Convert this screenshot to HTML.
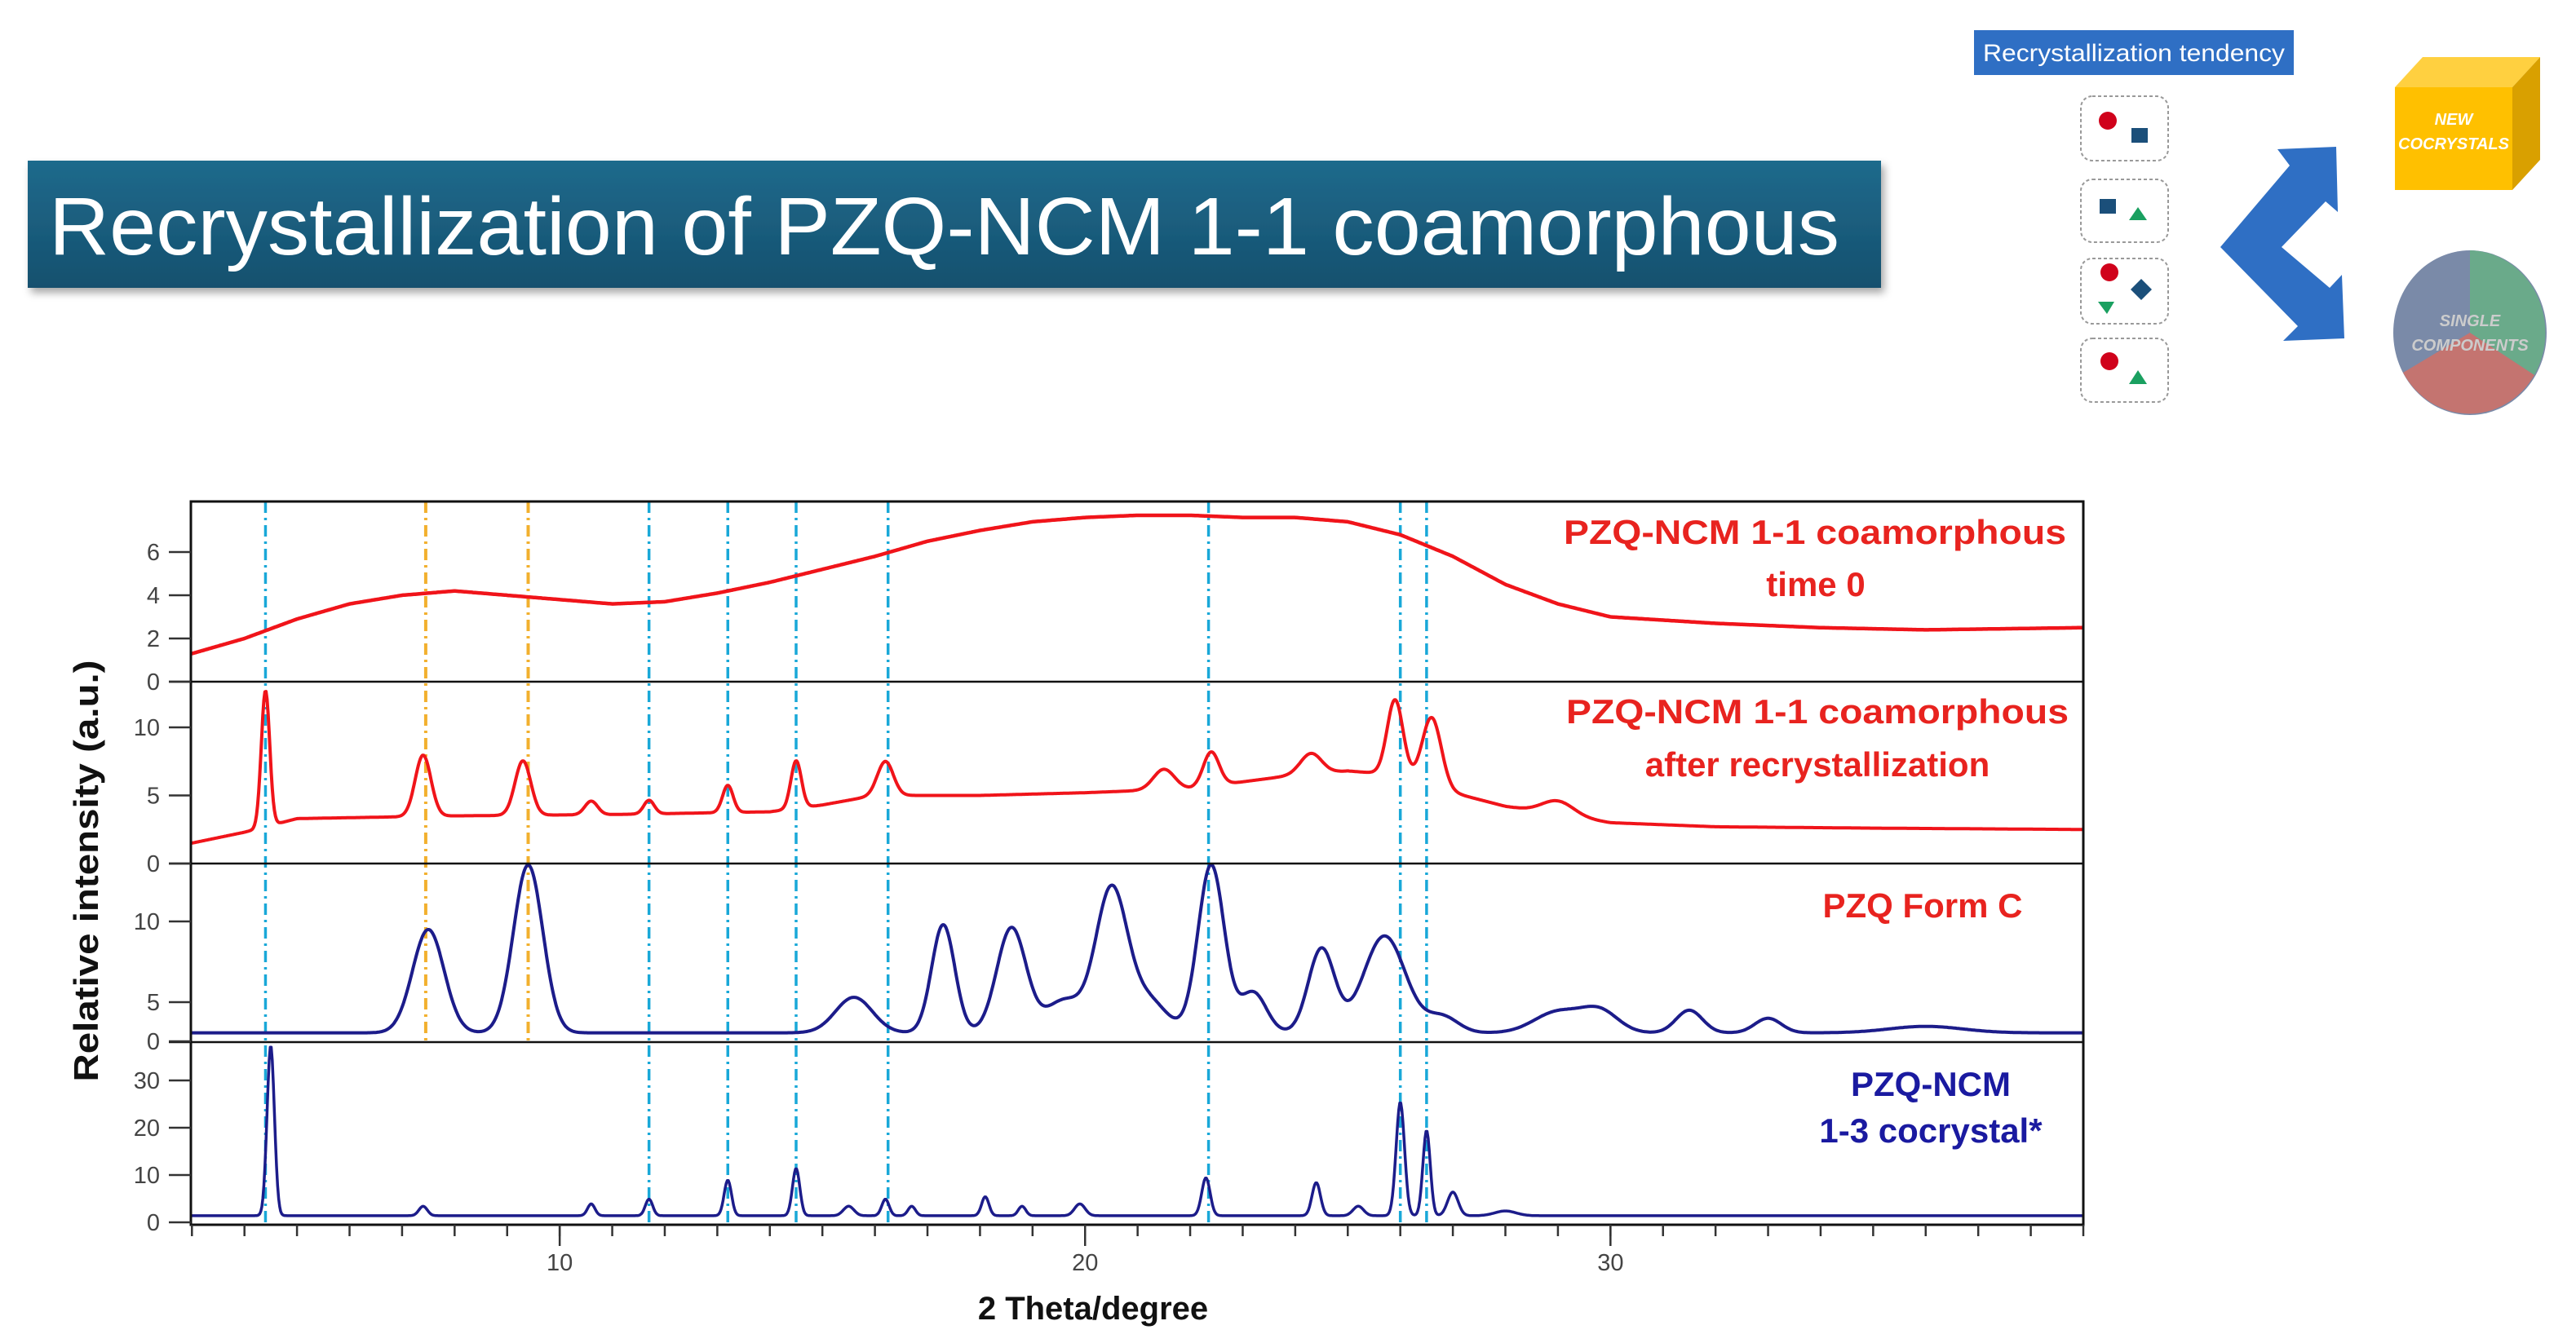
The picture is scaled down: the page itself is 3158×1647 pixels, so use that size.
<!DOCTYPE html>
<html><head><meta charset="utf-8"><style>
html,body{margin:0;padding:0;background:#fff;}
svg{display:block;font-family:"Liberation Sans",sans-serif;}
</style></head><body>
<svg id="root" width="3158" height="1647" viewBox="0 0 3158 1647" xmlns="http://www.w3.org/2000/svg">
<defs>
<linearGradient id="bn" x1="0" y1="0" x2="0" y2="1"><stop offset="0" stop-color="#1f6a8c"/><stop offset="1" stop-color="#15506e"/></linearGradient>
<filter id="sh" x="-5%" y="-20%" width="110%" height="150%"><feDropShadow dx="4" dy="6" stdDeviation="5" flood-color="#000" flood-opacity="0.35"/></filter>
<clipPath id="plotclip"><rect x="234" y="615" width="2320" height="887"/></clipPath>
</defs>
<g>
<rect x="34" y="197" width="2272" height="156" fill="url(#bn)" filter="url(#sh)"/>
<text x="60" y="312" font-size="100" fill="#fff" textLength="2195" lengthAdjust="spacingAndGlyphs">Recrystallization of PZQ-NCM 1-1 coamorphous</text>
</g>
<g>
<rect x="2420" y="37" width="392" height="55" fill="#2f6fc4"/>
<text x="2616" y="75" font-size="30" fill="#fff" text-anchor="middle" textLength="370" lengthAdjust="spacingAndGlyphs">Recrystallization tendency</text>
<g fill="none" stroke="#999" stroke-width="2" stroke-dasharray="4,3">
<rect x="2551" y="118" width="107" height="79" rx="14"/>
<rect x="2551" y="220" width="107" height="77" rx="14"/>
<rect x="2551" y="317" width="107" height="80" rx="14"/>
<rect x="2551" y="415" width="107" height="78" rx="14"/>
</g>
<ellipse cx="2584" cy="148" rx="11" ry="11" fill="#d0021b"/><rect x="2613" y="157" width="20" height="18" fill="#1b4f7a"/>
<rect x="2574" y="244" width="20" height="18" fill="#1b4f7a"/><polygon points="2621,254 2632,270 2610,270" fill="#1aa060"/>
<ellipse cx="2586" cy="334" rx="11" ry="11" fill="#d0021b"/><polygon points="2625,342 2638,355 2625,368 2612,355" fill="#1b4f7a"/><polygon points="2572,370 2592,370 2583,385" fill="#1aa060"/>
<ellipse cx="2586" cy="443" rx="11" ry="11" fill="#d0021b"/><polygon points="2621,454 2632,471 2610,471" fill="#1aa060"/>
<polygon fill="#2f6fc4" points="2792,183 2864,180 2866,260 2851,247 2797,303 2856,353 2871,337 2874,415 2799,418 2817,400 2722,303 2807,203"/>
<g>
<polygon points="2936,107 2970,70 3114,70 3080,107" fill="#ffd040"/>
<polygon points="3080,107 3114,70 3114,196 3080,233" fill="#d9a000"/>
<rect x="2936" y="107" width="144" height="126" fill="#ffc000"/>
<text x="3008" y="153" font-size="20" font-style="italic" font-weight="bold" fill="#fff" text-anchor="middle">NEW</text>
<text x="3008" y="183" font-size="20" font-style="italic" font-weight="bold" fill="#fff" text-anchor="middle">COCRYSTALS</text>
</g>
<g>
<ellipse cx="3028" cy="408" rx="94" ry="101" fill="#7a8aa8"/>
<path d="M3028,408 L3028,307 A94,101 0 0,1 3107,460 Z" fill="#6aaa8a"/>
<path d="M3028,408 L3107,460 A94,101 0 0,1 2946,457 Z" fill="#c47470"/>
<text x="3028" y="400" font-size="20" font-style="italic" font-weight="bold" fill="#ccc" text-anchor="middle">SINGLE</text>
<text x="3028" y="430" font-size="20" font-style="italic" font-weight="bold" fill="#ccc" text-anchor="middle">COMPONENTS</text>
</g>
</g>
<g id="chart"></g>
</svg>
<script>
// x-axis domain
const xDomain = [2.98, 39.0];
const xTicks = [10, 20, 30];
const xMinorTicks = [3,4,5,6,7,8,9,10,11,12,13,14,15,16,17,18,19,20,21,22,23,24,25,26,27,28,29,30,31,32,33,34,35,36,37,38,39];
// reference lines (2θ)
const cyanLines = [4.4, 11.7, 13.2, 14.5, 16.25, 22.35, 26.0, 26.5];
const orangeLines = [7.45, 9.4];
// panel 1: coamorphous time 0 — baseline samples
const p1X = [3,4,5,6,7,8,9,10,11,12,13,14,15,16,17,18,19,20,21,22,23,24,25,26,27,28,29,30,32,34,36,39];
const p1Y = [1.3,2.0,2.9,3.6,4.0,4.2,4.0,3.8,3.6,3.7,4.1,4.6,5.2,5.8,6.5,7.0,7.4,7.6,7.7,7.7,7.6,7.6,7.4,6.8,5.8,4.5,3.6,3.0,2.7,2.5,2.4,2.5];
const p1Ticks = [0,2,4,6];
// panel 2: after recrystallization
const p2X = [3,4,5,8,11,14,15,16,18,20,22,23,24,25,26,27,28,29,30,32,35,39];
const p2Y = [1.5,2.3,3.3,3.5,3.6,3.8,4.3,5.0,5.0,5.2,5.5,6.0,6.5,6.8,6.5,5.2,4.2,3.6,3.0,2.7,2.6,2.5];
const p2PeakPos = [4.4,7.4,9.3,10.6,11.7,13.2,14.5,16.2,21.5,22.4,24.3,25.9,26.6,29.0];
const p2PeakH = [10,4.5,4,1,1,2,3.5,2.5,1.5,2.5,1.5,5.5,5,1];
const p2PeakW = [0.08,0.15,0.15,0.12,0.1,0.1,0.1,0.15,0.2,0.15,0.2,0.15,0.18,0.3];
const p2Ticks = [0,5,10];
// panel 3: PZQ Form C
const p3Base = 3.1;
const p3PeakPos = [7.5,9.4,15.6,17.3,18.6,19.6,20.5,21.2,22.4,23.2,24.5,25.7,26.8,29.0,29.8,31.5,33.0,36.0];
const p3PeakH = [6.4,10.4,2.2,6.7,6.5,2,8.8,2,10.4,2.5,5.2,6,1,1.3,1.3,1.4,0.9,0.4];
const p3PeakW = [0.3,0.28,0.35,0.22,0.28,0.35,0.3,0.35,0.25,0.25,0.25,0.4,0.3,0.45,0.35,0.25,0.25,0.7];
const p3Ticks = [5,10];
// panel 4: 1-3 cocrystal
const p4Base = 1.4;
const p4PeakPos = [4.5,7.4,10.6,11.7,13.2,14.5,15.5,16.2,16.7,18.1,18.8,19.9,22.3,24.4,25.2,26.0,26.5,27.0,28.0];
const p4PeakH = [36,2,2.5,3.5,7.5,10,2,3.5,2,4,2,2.5,8,7,2,24,18,5,1];
const p4PeakW = [0.07,0.08,0.07,0.07,0.07,0.07,0.1,0.07,0.07,0.07,0.07,0.1,0.08,0.08,0.1,0.08,0.07,0.1,0.2];
const p4Ticks = [0,10,20,30];

const NS = "http://www.w3.org/2000/svg";
const chart = document.getElementById('chart');
const L = 234, R = 2554, T = 615, B = 1502;
const xs = d => L + (d - xDomain[0]) / (xDomain[1] - xDomain[0]) * (R - L);
const panels = [
  {zero: 836, ppu: 26.5, top: 615},
  {zero: 1059, ppu: 16.7, top: 836},
  {zero: 1328, ppu: 19.8, top: 1059},
  {zero: 1499, ppu: 5.8, top: 1278}
];
const ys = (p, v) => panels[p].zero - v * panels[p].ppu;
function mk(tag, attrs, parent) {
  const e = document.createElementNS(NS, tag);
  for (const k in attrs) e.setAttribute(k, attrs[k]);
  (parent || chart).appendChild(e);
  return e;
}
function interp(X, Y, d) {
  if (d <= X[0]) return Y[0];
  for (let i = 1; i < X.length; i++) if (d <= X[i]) { const t = (d - X[i-1]) / (X[i] - X[i-1]); return Y[i-1] + t * (Y[i] - Y[i-1]); }
  return Y[Y.length - 1];
}
function peaks(P, H, W, d) { let s = 0; for (let i = 0; i < P.length; i++) s += H[i] * Math.exp(-0.5 * ((d - P[i]) / W[i]) ** 2); return s; }

// reference lines
cyanLines.forEach(v => {
  const ln = mk('line', {x1: xs(v), x2: xs(v), y1: T, y2: B, stroke: '#19a8d8', 'stroke-width': 3.5, 'stroke-dasharray': '14,6,3,6'});
  
  
});
orangeLines.forEach(v => {
  const ln = mk('line', {x1: xs(v), x2: xs(v), y1: T, y2: 1278, stroke: '#f2b02e', 'stroke-width': 4, 'stroke-dasharray': '14,6,3,6'});
  
  
});

// curves
function curve(p, fn, color, name, sw) {
  let d = '';
  for (let t = xDomain[0] + 0.01; t <= xDomain[1]; t += 0.02) d += (d ? 'L' : 'M') + xs(t).toFixed(1) + ',' + Math.max(panels[p].top, ys(p, fn(t))).toFixed(1);
  const e = mk('path', {d: d, fill: 'none', stroke: color, 'stroke-width': sw, 'stroke-linejoin': 'round', 'clip-path': 'url(#plotclip)'});
  
  
}
curve(0, t => interp(p1X, p1Y, t), '#f0141a', 'coamorphous-time0-curve', 4.5);
curve(1, t => interp(p2X, p2Y, t) + peaks(p2PeakPos, p2PeakH, p2PeakW, t), '#f0141a', 'coamorphous-recrystallized-curve', 4);
curve(2, t => p3Base + peaks(p3PeakPos, p3PeakH, p3PeakW, t), '#1c1c8a', 'form-c-curve', 4);
curve(3, t => p4Base + peaks(p4PeakPos, p4PeakH, p4PeakW, t), '#1c1c8a', 'cocrystal-curve', 3.5);

// frame and panel separators
const fr = mk('rect', {x: L, y: T, width: R - L, height: B - T, fill: 'none', stroke: '#111', 'stroke-width': 3});


[836, 1059, 1278].forEach(y => {
  const s = mk('line', {x1: 207, x2: R, y1: y, y2: y, stroke: '#111', 'stroke-width': 2.5});
  
  
});

// y ticks
function yTicks(p, arr, override) {
  arr.forEach(v => {
    const y = (override && override[v] !== undefined) ? override[v] : ys(p, v);
    const tk = mk('line', {x1: 207, x2: L, y1: y, y2: y, stroke: '#333', 'stroke-width': 2.5});
    
    
    const tx = mk('text', {x: 196, y: y + 10, 'font-size': 29, fill: '#444', 'text-anchor': 'end'});
    tx.textContent = v;
    
    
  });
}
yTicks(0, p1Ticks);
yTicks(1, p2Ticks);
yTicks(2, p3Ticks);
yTicks(2, [0], {0: 1277});
yTicks(3, p4Ticks);

// x ticks
xMinorTicks.forEach(v => {
  const tk = mk('line', {x1: xs(v), x2: xs(v), y1: B, y2: B + 14, stroke: '#333', 'stroke-width': 2.5});
  
  
});
xTicks.forEach(v => {
  const tk = mk('line', {x1: xs(v), x2: xs(v), y1: B, y2: B + 26, stroke: '#333', 'stroke-width': 2.5});
  
  
  const tx = mk('text', {x: xs(v), y: 1558, 'font-size': 29, fill: '#444', 'text-anchor': 'middle'});
  tx.textContent = v;
  
  
});
</script>
<svg width="0" height="0" style="position:absolute"></svg>
<div style="position:absolute;left:0;top:0;width:3158px;height:1647px;pointer-events:none;">
<svg width="3158" height="1647" viewBox="0 0 3158 1647" xmlns="http://www.w3.org/2000/svg" style="font-family:'Liberation Sans',sans-serif">
<text x="1340" y="1618" font-size="40" font-weight="bold" fill="#111" text-anchor="middle">2 Theta/degree</text>
<text x="0" y="0" font-size="42" font-weight="bold" fill="#111" text-anchor="middle" textLength="517" lengthAdjust="spacingAndGlyphs" transform="translate(120,1068) rotate(-90)">Relative intensity (a.u.)</text>
<g font-weight="bold" font-size="42" text-anchor="middle">
<text x="2225" y="667" fill="#e8231f" textLength="616" lengthAdjust="spacingAndGlyphs">PZQ-NCM 1-1 coamorphous</text>
<text x="2226" y="731" fill="#e8231f">time 0</text>
<text x="2228" y="887" fill="#e8231f" textLength="616" lengthAdjust="spacingAndGlyphs">PZQ-NCM 1-1 coamorphous</text>
<text x="2228" y="952" fill="#e8231f">after recrystallization</text>
<text x="2357" y="1125" fill="#e8231f">PZQ Form C</text>
<text x="2367" y="1344" fill="#1a1aa0">PZQ-NCM</text>
<text x="2367" y="1401" fill="#1a1aa0">1-3 cocrystal*</text>
</g>
</svg>
</div>
</body></html>
